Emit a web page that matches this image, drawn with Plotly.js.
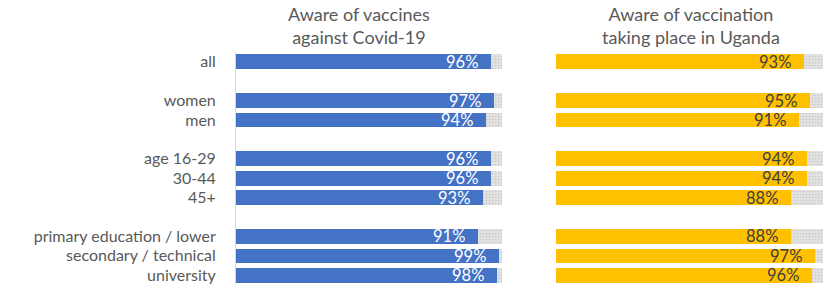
<!DOCTYPE html>
<html>
<head>
<meta charset="utf-8">
<script src="https://cdn.plot.ly/plotly-3.0.1.min.js"></script>
<style>html,body{margin:0;padding:0;background:#fff}#chart{width:832px;height:285px}</style>
</head>
<body>
<div id="chart"></div>
<script>
// Categories (empty strings are spacer rows between groups)
const categories = ["all", "", "women", "men", "", "age 16-29", "30-44", "45+", "", "primary education / lower", "secondary / technical", "university"];
// Aware of vaccines against Covid-19 (%)
const awareVaccines = [96, null, 97, 94, null, 96, 96, 93, null, 91, 99, 98];
// Aware of vaccination taking place in Uganda (%)
const awareVaccination = [93, null, 95, 91, null, 94, 94, 88, null, 88, 97, 96];
const panelTitles = ["Aware of vaccines<br>against Covid-19", "Aware of vaccination<br>taking place in Uganda"];
const fullScale = 100;

const FONT = "Lato, 'Open Sans', sans-serif";
const ypos = categories.map((c, i) => i);
const rowIdx = ypos.filter(i => awareVaccines[i] !== null);
const bgPattern = {shape: ".", bgcolor: "#e3e3e3", fgcolor: "#c9c9c9", size: 3, solidity: 0.25};

function bgTrace(xa, ya) {
  return {type: "bar", orientation: "h", x: rowIdx.map(() => fullScale), y: rowIdx,
    xaxis: xa, yaxis: ya, width: 0.76, hoverinfo: "skip", showlegend: false,
    marker: {color: "#e0e0e0", pattern: bgPattern, line: {width: 0}}};
}
function valTrace(vals, color, xa, ya) {
  return {type: "bar", orientation: "h", x: rowIdx.map(i => vals[i]), y: rowIdx,
    xaxis: xa, yaxis: ya, width: 0.76, showlegend: false,
    marker: {color: color, line: {width: 0}}};
}

const data = [
  bgTrace("x", "y"), valTrace(awareVaccines, "#4472c4", "x", "y"),
  bgTrace("x2", "y"), valTrace(awareVaccination, "#ffc000", "x2", "y")
];

const annotations = [];
rowIdx.forEach(i => {
  annotations.push({x: awareVaccines[i], y: i, xref: "x", yref: "y", text: awareVaccines[i] + "%",
    showarrow: false, xanchor: "right", xshift: -12, borderpad: 0,
    font: {family: FONT, size: 16.5, color: "#ffffff"}});
  annotations.push({x: awareVaccination[i], y: i, xref: "x2", yref: "y", text: awareVaccination[i] + "%",
    showarrow: false, xanchor: "right", xshift: -12, borderpad: 0,
    font: {family: FONT, size: 16.5, color: "#404040"}});
});
const dom1 = [0, 0.453], dom2 = [0.545, 1];
annotations.push({x: (dom1[0] + dom1[1]) / 2, y: 1, xref: "paper", yref: "paper", xshift: -10, yshift: 2,
  xanchor: "center", yanchor: "bottom", showarrow: false, text: panelTitles[0],
  font: {family: FONT, size: 18, color: "#595959"}});
annotations.push({x: (dom2[0] + dom2[1]) / 2, y: 1, xref: "paper", yref: "paper", yshift: 2, xshift: 2,
  xanchor: "center", yanchor: "bottom", showarrow: false, text: panelTitles[1],
  font: {family: FONT, size: 18, color: "#595959"}});

const layout = {
  width: 832, height: 285,
  margin: {l: 236, r: 9, t: 52, b: 0, pad: 0},
  paper_bgcolor: "#ffffff", plot_bgcolor: "#ffffff",
  barmode: "overlay", bargap: 0,
  showlegend: false,
  font: {family: FONT, color: "#595959", size: 16},
  xaxis: {domain: dom1, range: [0, fullScale], showgrid: false, zeroline: false, showticklabels: false, fixedrange: true},
  xaxis2: {domain: dom2, range: [0, fullScale], showgrid: false, zeroline: false, showticklabels: false, fixedrange: true},
  yaxis: {range: [categories.length - 0.5, -0.5], tickmode: "array", tickvals: ypos, ticktext: categories,
    showgrid: false, zeroline: false, showline: true, linecolor: "#d9d9d9", linewidth: 1,
    ticks: "", ticklabelstandoff: 16, ticklabeloverflow: "allow",
    tickfont: {family: FONT, size: 16, color: "#595959"}},
  annotations: annotations
};

Plotly.newPlot("chart", data, layout, {displayModeBar: false, staticPlot: true});
</script>
</body>
</html>
